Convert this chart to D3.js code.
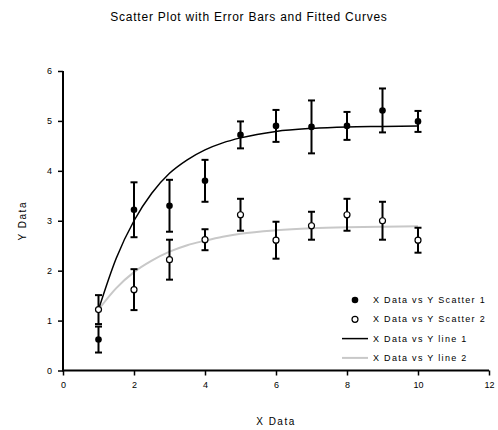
<!DOCTYPE html>
<html>
<head>
<meta charset="utf-8">
<script src="https://cdn.jsdelivr.net/npm/d3@7"></script>
<style>
  body { margin: 0; background: #fff; }
  text { font-family: "Liberation Sans", Arial, sans-serif; fill: #000; }
</style>
</head>
<body>
<svg id="chart" width="498" height="430"></svg>
<script>
// data
const xValues = [1, 2, 3, 4, 5, 6, 7, 8, 9, 10];
const scatter1 = [0.62, 3.22, 3.3, 3.8, 4.72, 4.9, 4.88, 4.9, 5.21, 4.99];
const scatter1Err = [0.26, 0.55, 0.52, 0.42, 0.27, 0.32, 0.53, 0.28, 0.44, 0.21];
const scatter2 = [1.22, 1.62, 2.22, 2.62, 3.12, 2.61, 2.9, 3.12, 3.0, 2.61];
const scatter2Err = [0.29, 0.41, 0.4, 0.21, 0.32, 0.37, 0.28, 0.32, 0.38, 0.25];
const lineX = [1, 1.5, 2, 2.5, 3, 3.5, 4, 4.5, 5, 6, 7, 8, 9, 10];
const line1 = [1.22, 2.25, 3.0, 3.55, 3.95, 4.22, 4.42, 4.56, 4.66, 4.79, 4.85, 4.88, 4.89, 4.9];
const line2 = [1.22, 1.65, 1.97, 2.2, 2.38, 2.51, 2.6, 2.68, 2.74, 2.81, 2.85, 2.87, 2.88, 2.89];
const xTicks = [0, 2, 4, 6, 8, 10, 12];
const yTicks = [0, 1, 2, 3, 4, 5, 6];
const legendLabels = ["X Data vs Y Scatter 1", "X Data vs Y Scatter 2", "X Data vs Y line 1", "X Data vs Y line 2"];

const svg = d3.select("#chart");

const x = d3.scaleLinear().domain([0, 12]).range([63, 489]);
const y = d3.scaleLinear().domain([0, 6]).range([370.5, 71]);

// title
svg.append("text")
    .attr("x", 249)
    .attr("y", 21)
    .attr("text-anchor", "middle")
    .style("font-size", "12px")
    .style("letter-spacing", "0.75px")
    .text("Scatter Plot with Error Bars and Fitted Curves");

// axes
const xAxis = svg.append("g")
    .attr("transform", "translate(0," + y(0) + ")")
    .call(d3.axisBottom(x).tickValues(xTicks).tickSize(5).tickPadding(6).tickFormat(d3.format("d")));
const yAxis = svg.append("g")
    .attr("transform", "translate(" + x(0) + ",0)")
    .call(d3.axisLeft(y).tickValues(yTicks).tickSize(5).tickPadding(6).tickFormat(d3.format("d")));

[xAxis, yAxis].forEach(function (ax) {
    ax.select(".domain").attr("stroke-width", 2);
    ax.selectAll(".tick line").attr("stroke-width", 1.5);
    ax.selectAll(".tick text")
        .style("font-size", "9px")
        .style("font-family", "'Liberation Sans', Arial, sans-serif");
});
xAxis.select(".domain").attr("d", "M" + x(0) + ",0H" + x(12));
yAxis.select(".domain").attr("d", "M0," + (y(0) + 1) + "V" + y(6));

// axis titles
svg.append("text")
    .attr("x", (x(0) + x(12)) / 2)
    .attr("y", 425)
    .attr("text-anchor", "middle")
    .style("font-size", "10px")
    .style("letter-spacing", "1.5px")
    .text("X Data");
svg.append("text")
    .attr("transform", "translate(26," + y(3) + ") rotate(-90)")
    .attr("text-anchor", "middle")
    .style("font-size", "10px")
    .style("letter-spacing", "1.5px")
    .text("Y Data");

// fitted curves
const curve = d3.line()
    .x(function (d, i) { return x(lineX[i]); })
    .y(function (d) { return y(d); })
    .curve(d3.curveMonotoneX);

svg.append("path")
    .datum(line2)
    .attr("d", curve)
    .attr("fill", "none")
    .attr("stroke", "#c8c8c8")
    .attr("stroke-width", 2);
svg.append("path")
    .datum(line1)
    .attr("d", curve)
    .attr("fill", "none")
    .attr("stroke", "#000")
    .attr("stroke-width", 1.5);

// error bars
function drawErrors(values, errs) {
    const pts = values.map(function (v, i) { return { x: xValues[i], y: v, e: errs[i] }; });
    const bars = svg.append("g").selectAll("g").data(pts).enter().append("g");
    bars.append("line")
        .attr("x1", function (d) { return x(d.x); })
        .attr("x2", function (d) { return x(d.x); })
        .attr("y1", function (d) { return y(d.y - d.e); })
        .attr("y2", function (d) { return y(d.y + d.e); })
        .attr("stroke", "#000").attr("stroke-width", 2);
    [-1, 1].forEach(function (s) {
        bars.append("line")
            .attr("x1", function (d) { return x(d.x) - 3.5; })
            .attr("x2", function (d) { return x(d.x) + 3.5; })
            .attr("y1", function (d) { return y(d.y + s * d.e); })
            .attr("y2", function (d) { return y(d.y + s * d.e); })
            .attr("stroke", "#000").attr("stroke-width", 2);
    });
    return pts;
}
const pts1 = drawErrors(scatter1, scatter1Err);
const pts2 = drawErrors(scatter2, scatter2Err);

// points
svg.append("g").selectAll("circle").data(pts1).enter().append("circle")
    .attr("cx", function (d) { return x(d.x); })
    .attr("cy", function (d) { return y(d.y); })
    .attr("r", 3.3)
    .attr("fill", "#000");
svg.append("g").selectAll("circle").data(pts2).enter().append("circle")
    .attr("cx", function (d) { return x(d.x); })
    .attr("cy", function (d) { return y(d.y); })
    .attr("r", 3)
    .attr("fill", "#fff")
    .attr("stroke", "#000")
    .attr("stroke-width", 1.2);

// legend
const legend = svg.append("g").attr("transform", "translate(373,300)");
const rowH = 19.3;
legend.selectAll("text").data(legendLabels).enter().append("text")
    .attr("x", 0)
    .attr("y", function (d, i) { return i * rowH + 3; })
    .style("font-size", "9px")
    .style("letter-spacing", "1.3px")
    .text(function (d) { return d; });
legend.append("circle").attr("cx", -18).attr("cy", 0).attr("r", 3.3).attr("fill", "#000");
legend.append("circle").attr("cx", -18).attr("cy", rowH).attr("r", 3)
    .attr("fill", "#fff").attr("stroke", "#000").attr("stroke-width", 1.2);
legend.append("line").attr("x1", -31).attr("x2", -5).attr("y1", 2 * rowH).attr("y2", 2 * rowH)
    .attr("stroke", "#000").attr("stroke-width", 1.5);
legend.append("line").attr("x1", -31).attr("x2", -5).attr("y1", 3 * rowH).attr("y2", 3 * rowH)
    .attr("stroke", "#c8c8c8").attr("stroke-width", 2);
</script>
</body>
</html>
